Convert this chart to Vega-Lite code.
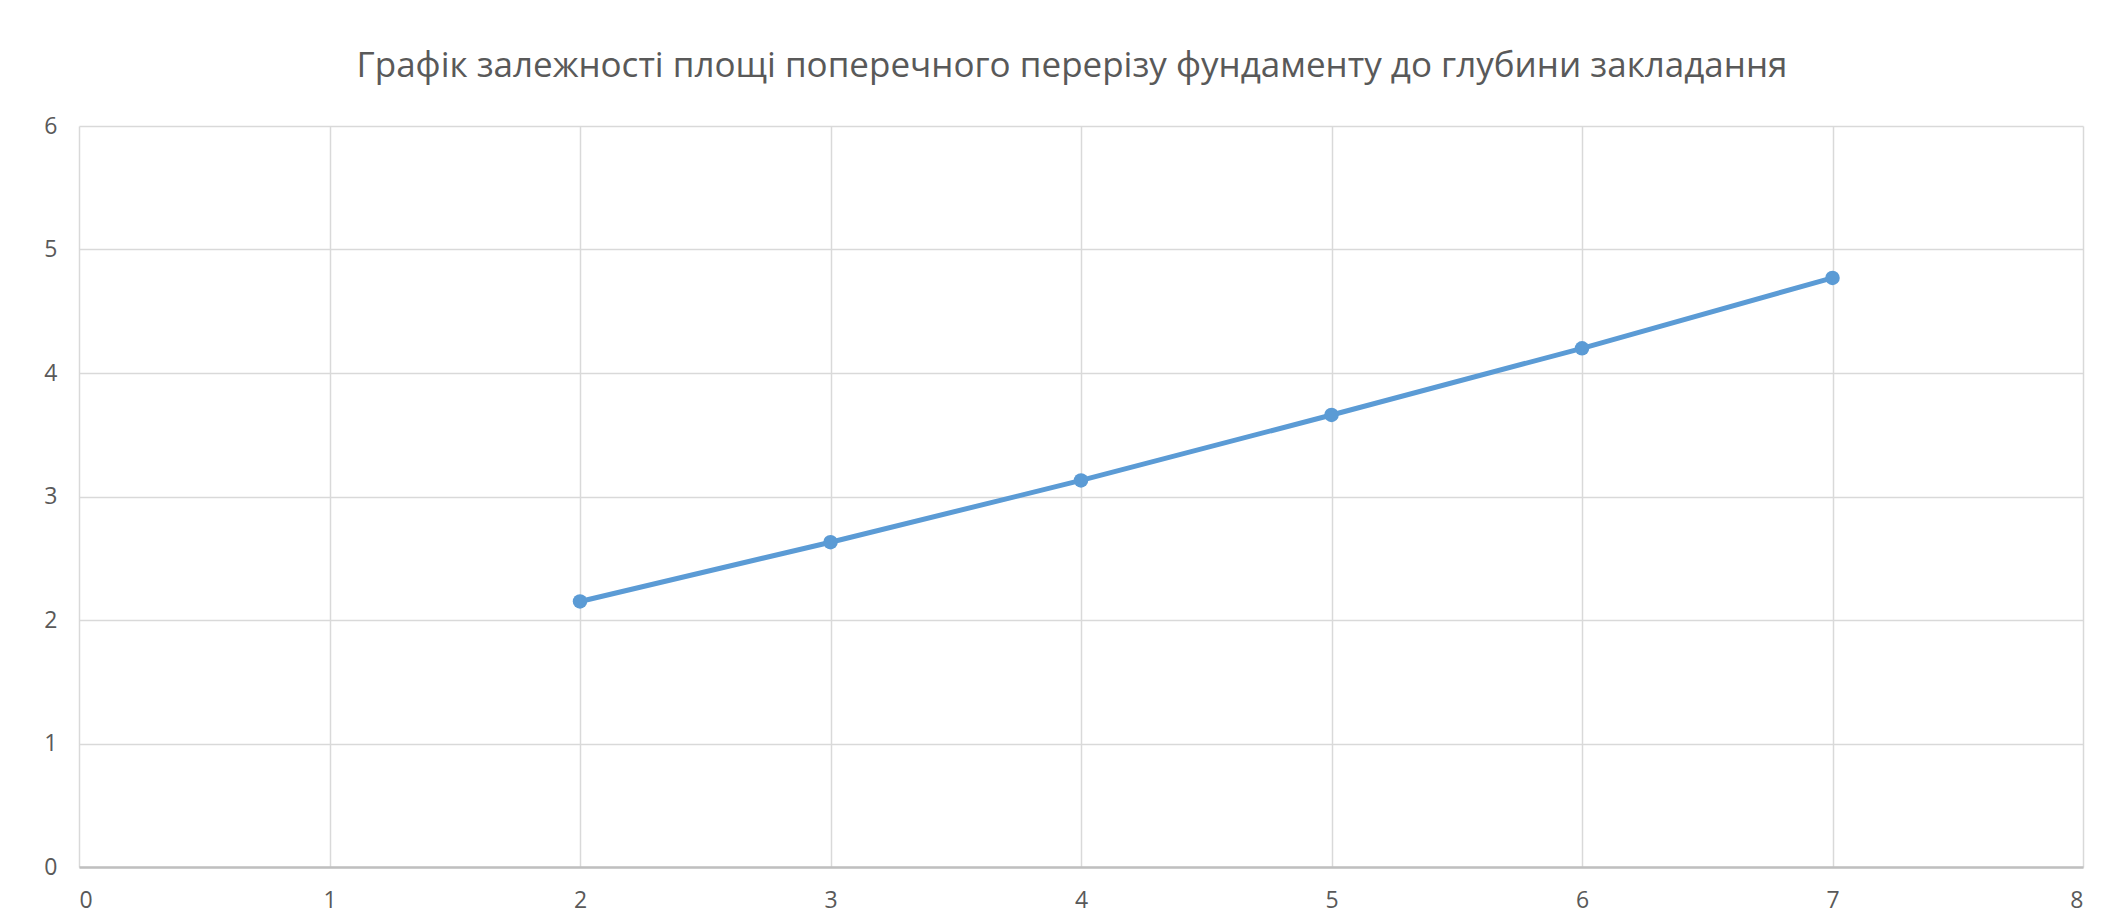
{
  "$schema": "https://vega.github.io/schema/vega-lite/v6.json",
  "width": 2004,
  "height": 741,
  "autosize": {"type": "none"},
  "padding": {"left": 79, "top": 126, "right": 36, "bottom": 54},
  "background": "white",
  "title": {
    "text": "Графік залежності площі поперечного перерізу фундаменту до глубини закладання",
    "font": "Open Sans",
    "fontSize": 35,
    "fontWeight": "normal",
    "color": "#595959",
    "anchor": "middle",
    "offset": 31,
    "dx": -9
  },
  "data": {
    "values": [
      {"depth": 2, "area": 2.15},
      {"depth": 3, "area": 2.63},
      {"depth": 4, "area": 3.13},
      {"depth": 5, "area": 3.66},
      {"depth": 6, "area": 4.2},
      {"depth": 7, "area": 4.77}
    ]
  },
  "encoding": {
    "x": {
      "field": "depth",
      "type": "quantitative",
      "scale": {"domain": [0, 8], "nice": false},
      "axis": {
        "title": null,
        "values": [0, 1, 2, 3, 4, 5, 6, 7, 8],
        "ticks": false,
        "domain": true,
        "domainColor": "#bfbfbf",
        "domainWidth": 2.5,
        "gridColor": "#d9d9d9",
        "gridWidth": 1.5,
        "labelFont": "Open Sans",
        "labelFontSize": 23,
        "labelColor": "#595959",
        "labelPadding": 22
      }
    },
    "y": {
      "field": "area",
      "type": "quantitative",
      "scale": {"domain": [0, 6], "nice": false},
      "axis": {
        "title": null,
        "values": [0, 1, 2, 3, 4, 5, 6],
        "ticks": false,
        "domain": false,
        "gridColor": "#d9d9d9",
        "gridWidth": 1.5,
        "labelFont": "Open Sans",
        "labelFontSize": 23,
        "labelColor": "#595959",
        "labelPadding": 22
      }
    }
  },
  "layer": [
    {"mark": {"type": "line", "color": "#5b9bd5", "strokeWidth": 5}},
    {"mark": {"type": "point", "filled": true, "opacity": 1, "color": "#5b9bd5", "size": 210}}
  ],
  "config": {"view": {"stroke": null}}
}
